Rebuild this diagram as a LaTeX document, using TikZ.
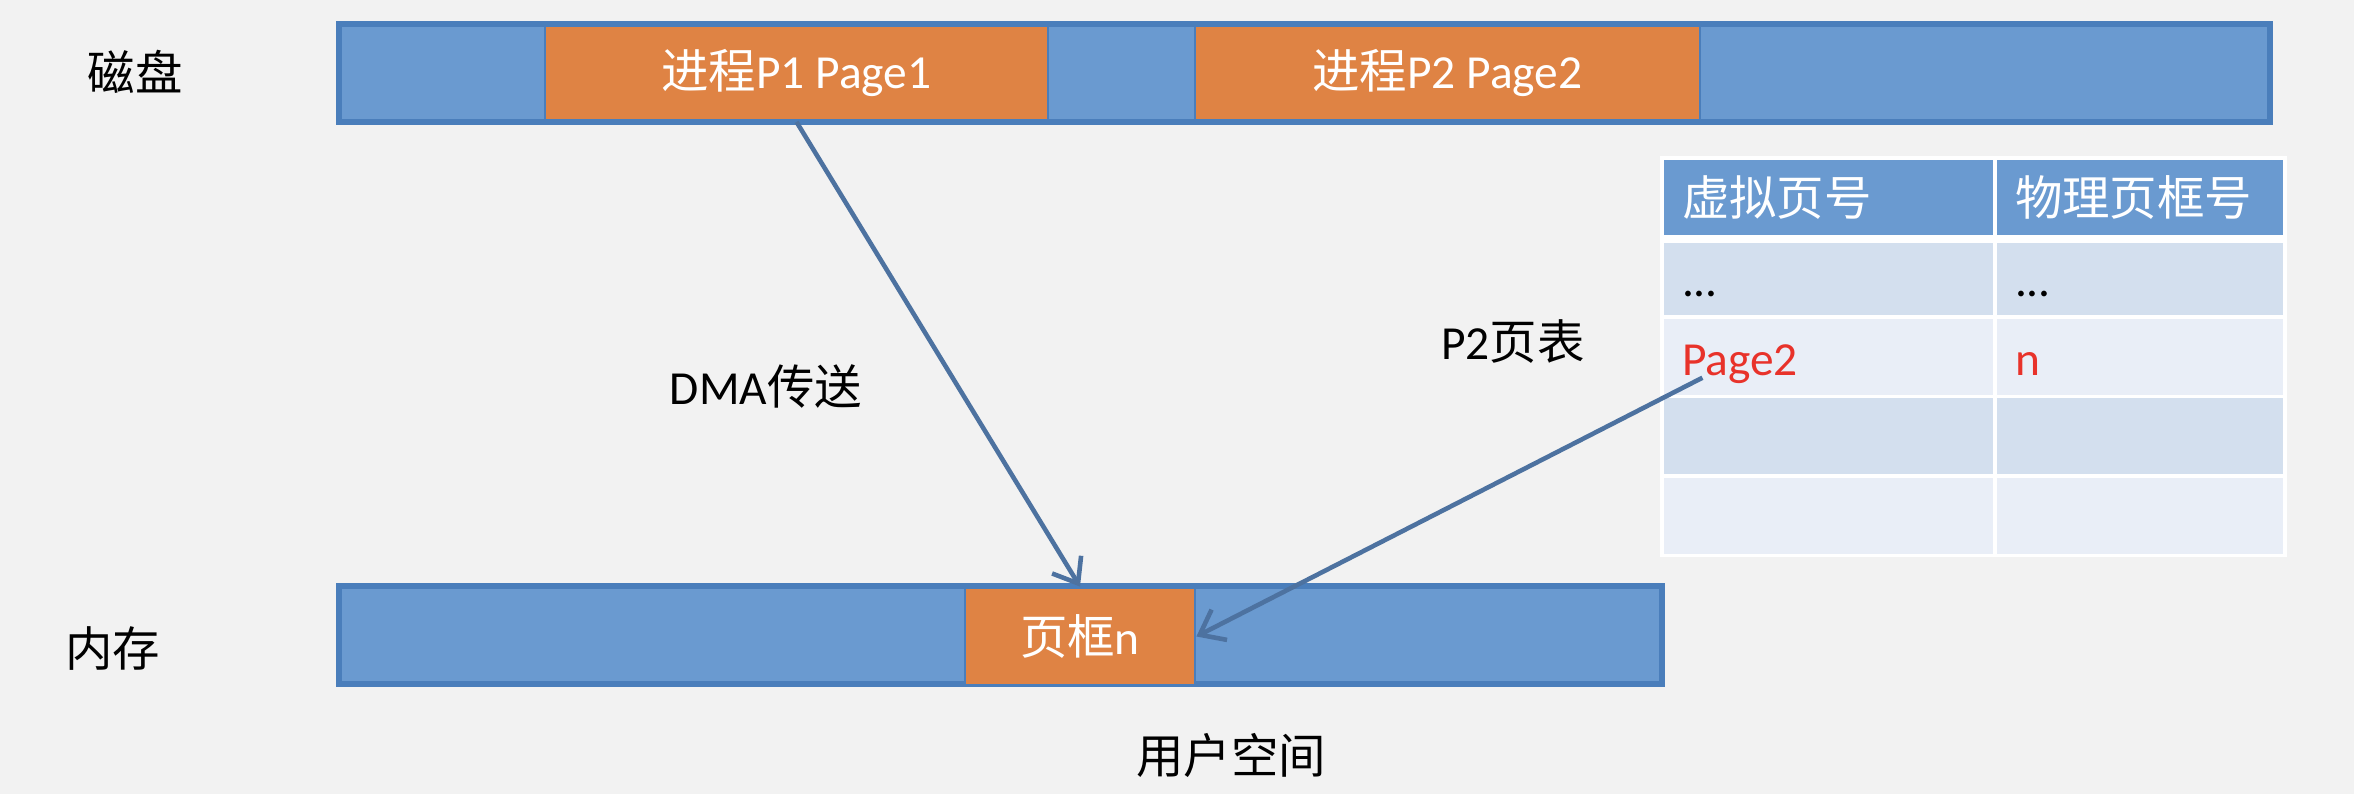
\documentclass[tikz,border=0pt]{standalone}
\usepackage{fontspec}
\setmainfont{Carlito}
\newfontfamily\cjk{Noto Sans CJK SC}
\usetikzlibrary{arrows.meta}
\usetikzlibrary{calc}
\usepackage{xcolor}
\definecolor{barblue}{HTML}{6A9AD0}
\definecolor{edgeblue}{HTML}{4A7EBB}
\definecolor{pageorange}{HTML}{DF8344}
\definecolor{arrowblue}{HTML}{4D72A0}
\definecolor{bggray}{HTML}{F2F2F2}
\definecolor{rowdark}{HTML}{D3DFEE}
\definecolor{rowlight}{HTML}{E9EEF7}
\definecolor{pagered}{HTML}{E8322A}
\newcommand{\rowdots}{...}

\begin{document}
\begin{tikzpicture}[scale=1,
    every node/.style={font=\fontsize{13.5}{16}\selectfont},
    bar/.style={draw=edgeblue,line width=1.5pt,fill=barblue,minimum height=0.98cm,inner sep=0pt},
    pagebox/.style={draw=edgeblue,line width=0.8pt,fill=pageorange,minimum height=0.95cm,inner sep=0pt,text=white},
    cell/.style={draw=white,line width=0.9pt,minimum height=0.795cm,inner ysep=0pt,inner xsep=0.2cm,align=left},
    bodycell/.style={cell,text height=0.45cm,text depth=0.07cm},
    link/.style={draw=arrowblue,line width=1.3pt,-{Straight Barb[length=2.2mm,width=3.4mm]}}]
    \fill[bggray] (0,0) rectangle (23.54,7.94);
    \useasboundingbox (0,0) rectangle (23.54,7.94);

    % disk
    \node[bar,minimum width=19.31cm] (disk) at (13.045,7.21) {};
    \node[pagebox,minimum width=5.03cm] (p1) at (7.965,7.21) {{\cjk 进程}P1 Page1};
    \node[pagebox,minimum width=5.05cm] (p2) at (14.475,7.21) {{\cjk 进程}P2 Page2};
    \node (disklbl) at (1.35,7.22) {\cjk 磁盘};

    % memory
    \node[bar,minimum width=13.23cm] (mem) at (10.005,1.59) {};
    \node[pagebox,minimum width=2.30cm,minimum height=0.97cm] (frame) at (10.80,1.575) {{\cjk 页框}n};
    \node (memlbl) at (1.13,1.45) {\cjk 内存};
    \node (userlbl) at (12.31,0.39) {\cjk 用户空间};

    % page table of P2
    \node[cell,fill=barblue,text=white,text width=2.93cm] (va0) at (18.285,5.9625) {\cjk 虚拟页号};
    \node[cell,fill=barblue,text=white,text width=2.50cm] (pf0) at (21.40,5.9625) {\cjk 物理页框号};
    \foreach \i/\shade/\ink/\vcol/\pcol in {1/rowdark/black/\rowdots/\rowdots,
        2/rowlight/pagered/Page2/n,3/rowdark/black/{}/{},4/rowlight/black/{}/{}}
    {
      \node[bodycell,fill=\shade,text=\ink,text width=2.93cm] (va\i) at (18.285,{5.9625-0.795*\i}) {\vcol};
      \node[bodycell,fill=\shade,text=\ink,text width=2.50cm] (pf\i) at (21.40,{5.9625-0.795*\i}) {\pcol};
    }
    \draw[white,line width=2.4pt] (va0.south west) -- (pf0.south east);
    \node (tbllbl) at (15.13,4.52) {P2{\cjk 页表}};
    \node (dmalbl) at (7.66,4.07) {DMA{\cjk 传送}};

    % arrows
    \coordinate (pgtail) at ($(va2.west)+(0.42,-0.21)$);
    \draw[link] (p1.south) -- (frame.north);
    \draw[link] (pgtail) -- (frame.east);
\end{tikzpicture}
\end{document}
